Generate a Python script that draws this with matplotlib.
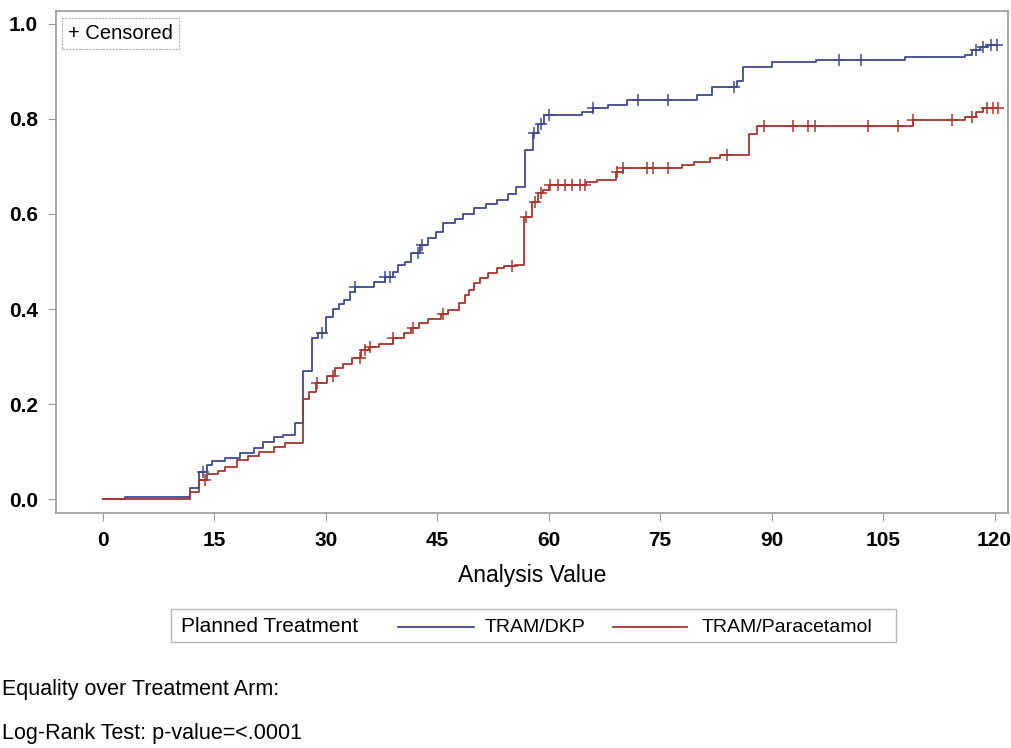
import numpy as np
import matplotlib
matplotlib.use("Agg")
import matplotlib.pyplot as plt
from matplotlib.lines import Line2D
from matplotlib.patches import Rectangle

# step curves (time, cumulative proportion)
dkp_t = [0, 3, 11.7, 13, 14, 14.7, 16.4, 18.4, 20.3, 21.5, 23, 24.2, 25.8, 26.9, 28.1, 29, 30, 31, 31.8, 32.5,
         33.3, 34, 36.5, 38, 39, 39.7, 40.6, 41.5, 42.7, 43.8, 44.8, 45.8, 47.4, 48.5, 50, 51.5, 53, 54.5, 55.6, 56.8,
         57.9, 58.5, 59.4, 64.5, 66, 68, 70.5, 80, 82, 85.4, 86.2, 90, 96, 108, 116, 117, 118, 119]
dkp_y = [0, 0.004, 0.023, 0.057, 0.072, 0.08, 0.086, 0.097, 0.107, 0.12, 0.13, 0.135, 0.16, 0.27, 0.34, 0.35, 0.383, 0.40, 0.41, 0.42,
         0.436, 0.446, 0.456, 0.467, 0.477, 0.493, 0.5, 0.518, 0.535, 0.55, 0.562, 0.58, 0.59, 0.6, 0.612, 0.622, 0.63, 0.643, 0.657, 0.735,
         0.77, 0.79, 0.808, 0.815, 0.823, 0.83, 0.84, 0.85, 0.867, 0.88, 0.91, 0.92, 0.923, 0.93, 0.935, 0.945, 0.952, 0.956]

par_t = [0, 11.7, 13, 14, 15.5, 16.5, 18, 19.5, 21, 23, 24.5, 26.9, 27.8, 28.7, 30.2, 31.3, 32.3, 33.6, 34.7, 35.8,
         37.2, 39, 40.5, 41.5, 42.5, 43.8, 45.5, 46.5, 48, 48.7, 49.3, 50, 50.8, 51.8, 53, 54, 55.5, 56.7, 57.8, 58.5,
         59.2, 60, 65, 66.5, 69, 70, 78, 79.5, 81.7, 83, 87, 88, 109, 116, 117.5, 118.5]
par_y = [0, 0.015, 0.04, 0.054, 0.06, 0.067, 0.082, 0.09, 0.1, 0.11, 0.118, 0.21, 0.225, 0.245, 0.26, 0.275, 0.285, 0.296, 0.313, 0.32,
         0.327, 0.34, 0.35, 0.36, 0.37, 0.38, 0.39, 0.398, 0.413, 0.43, 0.44, 0.455, 0.465, 0.475, 0.486, 0.49, 0.493, 0.594, 0.625, 0.644,
         0.65, 0.661, 0.667, 0.672, 0.688, 0.697, 0.703, 0.71, 0.718, 0.724, 0.768, 0.785, 0.798, 0.805, 0.815, 0.822]
end_time = 120.3

# censoring times
dkp_cens = [13.5, 29.5, 34, 38, 38.6, 42.4, 43, 58, 59, 60, 66, 72, 76, 85, 99, 102, 117.5, 118.5, 119.5, 120.3]
par_cens = [13.7, 28.8, 31, 34.6, 35.3, 36, 39, 41.7, 45.8, 55, 57, 58.1, 59, 60.2, 61.2, 62.2, 63.1, 64.2, 64.9,
            69.2, 70, 73.2, 74, 76, 84, 89, 92.9, 94.9, 95.8, 103, 107, 109, 114.3, 117, 119, 119.8, 120.5]

xticks = [0, 15, 30, 45, 60, 75, 90, 105, 120]
yticks = [0.0, 0.2, 0.4, 0.6, 0.8, 1.0]

blue = "#3d4b8e"
red = "#a8352d"
grey = "#9a9a9a"

plt.rcParams['font.family'] = ["Liberation Sans", "DejaVu Sans"]

fig = plt.figure(figsize=(10.12, 7.48), dpi=100)
ax = fig.add_axes([0.0553, 0.3142, 0.9407, 0.6711])


def step_at(t, y, times):
    idx = np.searchsorted(np.array(t), np.array(times), side="right") - 1
    return np.array(y)[idx]


for t, y, cens, col in [(dkp_t, dkp_y, dkp_cens, blue), (par_t, par_y, par_cens, red)]:
    tt = list(t) + [end_time]
    yy = list(y) + [y[-1]]
    ax.step(tt, yy, where="post", color=col, lw=1.3)
    ax.plot(cens, step_at(t, y, cens), ls="none", marker="+", ms=9, mew=1.1, color=col)

ax.set_xlim(-6.3, 121.8)
ax.set_ylim(-0.029, 1.027)
ax.set_xticks(xticks)
ax.set_yticks(yticks)
ax.set_yticklabels([f"{v:.1f}" for v in yticks])
ax.tick_params(direction="out", length=6, color=grey, labelsize=15, pad=7)
for lab in ax.get_xticklabels() + ax.get_yticklabels():
    lab.set_fontweight("bold")
for s in ax.spines.values():
    s.set_color(grey)
    s.set_linewidth(1.2)
ax.set_xlabel("Analysis Value", fontsize=16.5, labelpad=10)

# censored box
ax.text(0.013, 0.975, "+ Censored", transform=ax.transAxes, fontsize=14.5, va="top", ha="left",
        bbox=dict(boxstyle="square,pad=0.3", fc="white", ec="#b0b0b0", ls=(0, (2, 1)), lw=0.8))

# bottom legend
fig.add_artist(Rectangle((171 / 1012, 1 - 642 / 748), 725 / 1012, 33 / 748, transform=fig.transFigure,
                         fc="white", ec="#b8b8b8", lw=1))
ly = 1 - 627 / 748
fig.text(181 / 1012, ly, "Planned Treatment", fontsize=15, va="center", ha="left")
fig.add_artist(Line2D([398 / 1012, 474 / 1012], [ly, ly], transform=fig.transFigure, color=blue, lw=1.3))
fig.text(485 / 1012, ly, "TRAM/DKP", fontsize=14, va="center", ha="left")
fig.add_artist(Line2D([613 / 1012, 687 / 1012], [ly, ly], transform=fig.transFigure, color=red, lw=1.3))
fig.text(702 / 1012, ly, "TRAM/Paracetamol", fontsize=14, va="center", ha="left")

fig.text(0.002, 1 - 690 / 748, "Equality over Treatment Arm:", fontsize=15.5, va="center", ha="left")
fig.text(0.002, 1 - 733 / 748, "Log-Rank Test: p-value=<.0001", fontsize=15.5, va="center", ha="left")

fig.savefig("out.png", dpi=100, facecolor="white")
